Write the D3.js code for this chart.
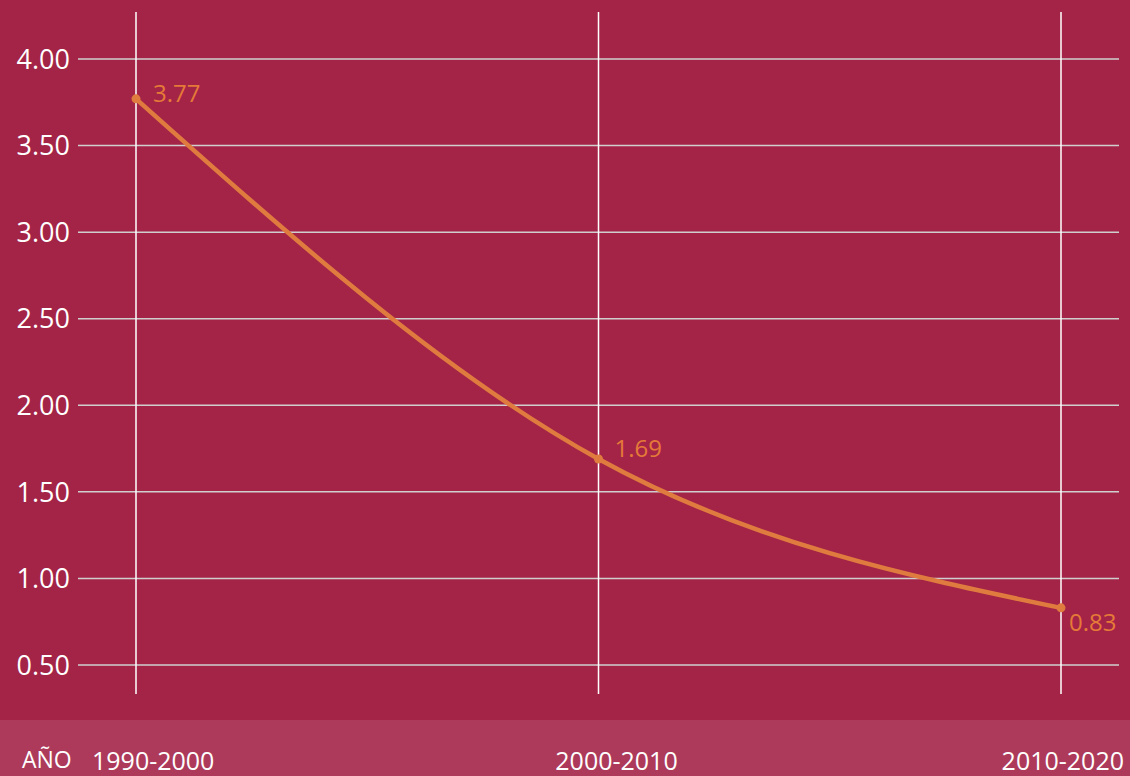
<!DOCTYPE html>
<html>
<head>
<meta charset="utf-8">
<script src="https://cdn.jsdelivr.net/npm/d3@7"></script>
<style>
  body { margin: 0; background: #a42447; }
  svg { display: block; font-family: "Open Sans", "Noto Sans", sans-serif; }
</style>
</head>
<body>
<script>
// Data
const periods = ['1990-2000', '2000-2010', '2010-2020'];
const rates = [3.77, 1.69, 0.83];
const yTicks = [0.5, 1.0, 1.5, 2.0, 2.5, 3.0, 3.5, 4.0];
const axisTitle = 'AÑO';

const width = 1130;
const height = 776;

const svg = d3.select('body')
  .append('svg')
  .attr('width', width)
  .attr('height', height);

svg.append('rect')
  .attr('width', width)
  .attr('height', height)
  .attr('fill', '#a42447');

// bottom band
svg.append('rect')
  .attr('x', 0)
  .attr('y', 720)
  .attr('width', width)
  .attr('height', height - 720)
  .attr('fill', '#ad3a5a');

// Scales
const xScale = d3.scalePoint()
  .domain(periods)
  .range([136, 1061]);

const yScale = d3.scaleLinear()
  .domain([0.5, 4])
  .range([665, 59]);

// Horizontal grid
svg.append('g')
  .selectAll('line')
  .data(yTicks)
  .join('line')
  .attr('x1', 78)
  .attr('x2', 1119)
  .attr('y1', d => yScale(d))
  .attr('y2', d => yScale(d))
  .attr('stroke', '#cfcfcf')
  .attr('stroke-width', 1.5);

// Vertical grid
svg.append('g')
  .selectAll('line')
  .data(periods)
  .join('line')
  .attr('x1', d => xScale(d))
  .attr('x2', d => xScale(d))
  .attr('y1', 12)
  .attr('y2', 694)
  .attr('stroke', '#ffffff')
  .attr('stroke-width', 1.5);

// Y labels
svg.append('g')
  .selectAll('text')
  .data(yTicks)
  .join('text')
  .attr('x', 70)
  .attr('y', d => yScale(d))
  .attr('dy', '0.36em')
  .attr('text-anchor', 'end')
  .attr('fill', '#ffffff')
  .attr('font-size', 27)
  .attr('font-weight', 500)
  .text(d => d3.format('.2f')(d));

// X labels
const xAnchor = ['start', 'middle', 'end'];
const xOffset = [-44, 18, 63];
svg.append('g')
  .selectAll('text')
  .data(periods)
  .join('text')
  .attr('x', (d, i) => xScale(d) + xOffset[i])
  .attr('y', 770)
  .attr('text-anchor', (d, i) => xAnchor[i])
  .attr('fill', '#ffffff')
  .attr('font-size', 25)
  .text(d => d);

svg.append('text')
  .attr('x', 22)
  .attr('y', 768)
  .attr('fill', '#ffffff')
  .attr('font-size', 23)
  .text(axisTitle);

// Line
const points = periods.map((p, i) => ({ period: p, value: rates[i] }));

const line = d3.line()
  .x(d => xScale(d.period))
  .y(d => yScale(d.value))
  .curve(d3.curveMonotoneX);

svg.append('path')
  .datum(points)
  .attr('d', line)
  .attr('fill', 'none')
  .attr('stroke', '#e07b3f')
  .attr('stroke-width', 4.5);

svg.append('g')
  .selectAll('circle')
  .data(points)
  .join('circle')
  .attr('cx', d => xScale(d.period))
  .attr('cy', d => yScale(d.value))
  .attr('r', 4.5)
  .attr('fill', '#e07b3f');

// Value labels
const labelDx = [17, 16, 8];
const labelDy = [3, -2, 23];
svg.append('g')
  .selectAll('text')
  .data(points)
  .join('text')
  .attr('x', (d, i) => xScale(d.period) + labelDx[i])
  .attr('y', (d, i) => yScale(d.value) + labelDy[i])
  .attr('fill', '#e57a38')
  .attr('font-size', 24)
  .text(d => d3.format('.2f')(d.value));
</script>
</body>
</html>
